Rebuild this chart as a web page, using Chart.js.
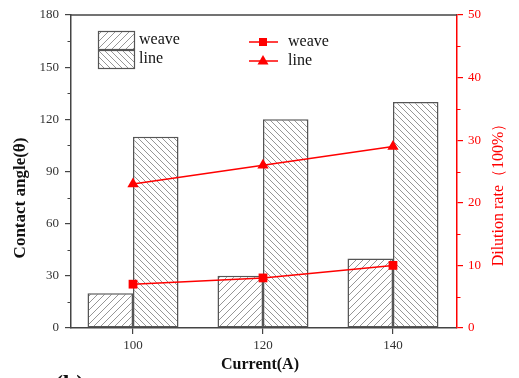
<!DOCTYPE html>
<html><head><meta charset="utf-8">
<script src="https://cdn.jsdelivr.net/npm/chart.js@4/dist/chart.umd.min.js"></script>
<style>html,body{margin:0;padding:0;background:#fff;}#wrap{width:519px;height:378px;}</style>
</head><body><div id="wrap"><canvas id="c" width="519" height="378"></canvas></div>
<script>
const categories = [100, 120, 140];
const angleWeave = [20, 30, 40];
const angleLine = [110, 120, 130];
const dilutionWeave = [7, 8, 10];
const dilutionLine = [23, 26, 29];
const leftTicks = [0, 30, 60, 90, 120, 150, 180];
const rightTicks = [0, 10, 20, 30, 40, 50];

const pts = (vals) => vals.map((v, i) => ({ x: categories[i], y: v }));

const SERIF = '"Liberation Serif", "Times New Roman", serif';
const RED = '#ff0000';
const AXIS = '#444';

function hatch(dir, s) {
  const c = document.createElement('canvas');
  c.width = s; c.height = s;
  const g = c.getContext('2d');
  g.fillStyle = '#fff'; g.fillRect(0, 0, s, s);
  g.strokeStyle = '#8a8a8a'; g.lineWidth = 0.9;
  g.beginPath();
  if (dir === '/') {
    g.moveTo(-1, s + 1); g.lineTo(s + 1, -1);
    g.moveTo(-1, 1); g.lineTo(1, -1);
    g.moveTo(s - 1, s + 1); g.lineTo(s + 1, s - 1);
  } else {
    g.moveTo(-1, -1); g.lineTo(s + 1, s + 1);
    g.moveTo(s - 1, -1); g.lineTo(s + 1, 1);
    g.moveTo(-1, s - 1); g.lineTo(1, s + 1);
  }
  g.stroke();
  return document.getElementById('c').getContext('2d').createPattern(c, 'repeat');
}
const patWeave = hatch('/', 7);
const patLine = hatch('\\', 6);

const deco = {
  id: 'deco',
  afterDraw(chart) {
    const ctx = chart.ctx;
    const a = chart.chartArea;
    const y = chart.scales.y, y1 = chart.scales.y1;
    ctx.save();
    // top border
    ctx.strokeStyle = AXIS; ctx.lineWidth = 1.5;
    ctx.beginPath(); ctx.moveTo(a.left, a.top); ctx.lineTo(a.right, a.top); ctx.stroke();
    // minor ticks left
    ctx.lineWidth = 1;
    for (let v = 15; v < 180; v += 30) {
      const py = Math.round(y.getPixelForValue(v)) + 0.5;
      ctx.beginPath(); ctx.moveTo(a.left - 3.5, py); ctx.lineTo(a.left, py); ctx.stroke();
    }
    ctx.strokeStyle = RED;
    for (let v = 5; v < 50; v += 10) {
      const py = Math.round(y1.getPixelForValue(v)) + 0.5;
      ctx.beginPath(); ctx.moveTo(a.right, py); ctx.lineTo(a.right + 3.5, py); ctx.stroke();
    }
    // titles
    ctx.fillStyle = '#111';
    ctx.font = 'bold 17px ' + SERIF;
    ctx.textAlign = 'center'; ctx.textBaseline = 'middle';
    ctx.save(); ctx.translate(21, 198); ctx.rotate(-Math.PI / 2);
    ctx.fillText('Contact angle(θ)', 0, 0); ctx.restore();
    ctx.font = 'bold 16px ' + SERIF;
    ctx.fillText('Current(A)', 260, 365);
    ctx.fillStyle = RED;
    ctx.font = '16px ' + SERIF;
    ctx.save(); ctx.translate(499, 191); ctx.rotate(-Math.PI / 2);
    ctx.fillText('Dilution rate（100%）', 0, 0); ctx.restore();
    ctx.fillStyle = '#111';
    ctx.font = 'bold 24px ' + SERIF;
    ctx.textAlign = 'left'; ctx.textBaseline = 'alphabetic';
    ctx.fillText('(b)', 55, 391);
    // legend
    ctx.font = '16px ' + SERIF; ctx.textBaseline = 'middle';
    const boxes = [[patWeave, 31, 'weave'], [patLine, 50, 'line']];
    boxes.forEach(([p, top, t]) => {
      ctx.fillStyle = p; ctx.fillRect(98, top, 36, 18);
      ctx.strokeStyle = '#555'; ctx.lineWidth = 1.2; ctx.strokeRect(98.5, top + 0.5, 36, 18);
      ctx.fillStyle = '#111'; ctx.fillText(t, 139, top + 9);
    });
    ctx.strokeStyle = RED; ctx.fillStyle = RED; ctx.lineWidth = 1.5;
    ctx.beginPath(); ctx.moveTo(249, 42); ctx.lineTo(278, 42); ctx.stroke();
    ctx.fillRect(259, 38, 8, 8);
    ctx.beginPath(); ctx.moveTo(249, 61); ctx.lineTo(278, 61); ctx.stroke();
    ctx.beginPath(); ctx.moveTo(263, 55); ctx.lineTo(268.5, 64.5); ctx.lineTo(257.5, 64.5); ctx.closePath(); ctx.fill();
    ctx.fillStyle = '#111'; ctx.fillText('weave', 288, 42); ctx.fillText('line', 288, 61);
    ctx.restore();
  }
};

new Chart(document.getElementById('c'), {
  type: 'bar',
  data: {
    datasets: [
      { type: 'bar', label: 'weave', data: pts(angleWeave), yAxisID: 'y', backgroundColor: patWeave, borderColor: '#555', borderWidth: 1.5, borderSkipped: false, barPercentage: 1.0, categoryPercentage: 0.7, order: 2 },
      { type: 'bar', label: 'line', data: pts(angleLine), yAxisID: 'y', backgroundColor: patLine, borderColor: '#555', borderWidth: 1.5, borderSkipped: false, barPercentage: 1.0, categoryPercentage: 0.7, order: 2 },
      { type: 'line', label: 'weave ', data: pts(dilutionWeave), yAxisID: 'y1', borderColor: RED, backgroundColor: RED, borderWidth: 1.5, pointStyle: 'rect', pointRadius: 6.2, pointBorderWidth: 0, tension: 0, order: 1 },
      { type: 'line', label: 'line ', data: pts(dilutionLine), yAxisID: 'y1', borderColor: RED, backgroundColor: RED, borderWidth: 1.5, pointStyle: 'triangle', pointRadius: 6.5, pointBorderWidth: 0, tension: 0, order: 1 }
    ]
  },
  options: {
    responsive: false, animation: false,
    layout: { padding: { top: 15, left: 0, right: 0, bottom: 0 } },
    plugins: { legend: { display: false }, tooltip: { enabled: false } },
    scales: {
      x: {
        type: 'linear', min: 90.46, max: 149.85, offset: false,
        afterBuildTicks(s) { s.ticks = categories.map(v => ({ value: v })); },
        grid: { offset: false, drawOnChartArea: false, tickLength: 6, color: AXIS, lineWidth: 1.2 },
        border: { display: true, color: AXIS, width: 1.5 },
        ticks: { font: { family: SERIF, size: 13 }, color: '#333', padding: 4, maxRotation: 0, callback: v => String(v) },
        afterFit(s) { s.height = 50; }
      },
      y: {
        position: 'left', min: 0, max: 180,
        afterBuildTicks(s) { s.ticks = leftTicks.map(v => ({ value: v })); },
        grid: { drawOnChartArea: false, tickLength: 6, color: AXIS, lineWidth: 1.2 },
        border: { display: true, color: AXIS, width: 1.5 },
        ticks: { font: { family: SERIF, size: 13 }, color: '#333', padding: 6 },
        afterFit(s) { s.width = 71; }
      },
      y1: {
        position: 'right', min: 0, max: 50,
        afterBuildTicks(s) { s.ticks = rightTicks.map(v => ({ value: v })); },
        grid: { drawOnChartArea: false, tickLength: 6, color: RED, lineWidth: 1.2 },
        border: { display: true, color: RED, width: 1.5 },
        ticks: { font: { family: SERIF, size: 13 }, color: RED, padding: 5 },
        afterFit(s) { s.width = 62; }
      }
    }
  },
  plugins: [deco]
});
</script>
</body></html>
